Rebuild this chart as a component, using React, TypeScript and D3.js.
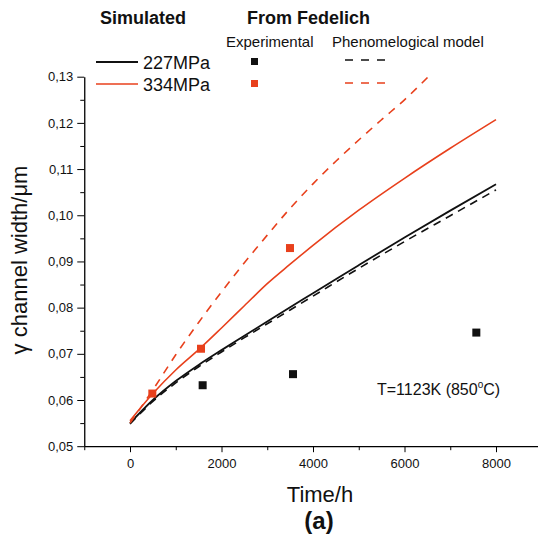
import React, { useEffect, useRef } from "react";
import * as d3 from "d3";

const timeSim = [0, 500, 1000, 1500, 2000, 2500, 3000, 3500, 4000, 5000, 6000, 7000, 8000];
const sim227 = [0.055, 0.06, 0.0641, 0.0676, 0.0708, 0.0739, 0.077, 0.0801, 0.0831, 0.0892, 0.0952, 0.101, 0.1067];
const model227 = [0.0548, 0.0597, 0.0637, 0.0672, 0.0704, 0.0735, 0.0765, 0.0795, 0.0825, 0.0885, 0.0943, 0.0999, 0.1055];
const sim334 = [0.0555, 0.0614, 0.0665, 0.0709, 0.0756, 0.0804, 0.0852, 0.0894, 0.0935, 0.1011, 0.108, 0.1145, 0.1207];
const timeModel334 = [0, 500, 1000, 1500, 2000, 2500, 3000, 3500, 4000, 4500, 5000, 5500, 6000, 6520];
const model334 = [0.055, 0.0622, 0.0698, 0.0768, 0.0834, 0.0897, 0.0957, 0.1015, 0.1068, 0.1117, 0.1163, 0.1207, 0.125, 0.13];
const exp227Time = [1588, 3563, 7570];
const exp227 = [0.0632, 0.0656, 0.0746];
const exp334Time = [488, 1552, 3497];
const exp334 = [0.0614, 0.0711, 0.0929];
const xTickLabels = [0, 2000, 4000, 6000, 8000];
const yTickValues = [0.05, 0.06, 0.07, 0.08, 0.09, 0.1, 0.11, 0.12, 0.13];

const RED = "#e8401c";
const FONT = "'Liberation Sans', Arial, sans-serif";

export default function App() {
  const ref = useRef<SVGSVGElement>(null);
  useEffect(() => {
    const svg = d3.select(ref.current);
    svg.selectAll("*").remove();
    const x = d3.scaleLinear().domain([-1000, 9000]).range([84.25, 541.75]);
    const y = d3.scaleLinear().domain([0.05, 0.13]).range([446.2, 76.7]);
    const isMajorY = (d: any) => yTickValues.some((v) => Math.abs(v - d) < 1e-6);

    // axes
    const gx = svg.append("g").attr("transform", `translate(0,${y(0.05)})`);
    gx.call(
      d3.axisBottom(x).tickValues(d3.range(-1000, 9001, 1000)).tickSize(5).tickSizeOuter(0)
        .tickFormat((d: any) => (xTickLabels.includes(d) ? String(d) : ""))
    );
    gx.selectAll(".tick line").attr("y2", (d: any) => (xTickLabels.includes(d) ? 6 : 4));
    gx.selectAll("text").attr("font-size", 13).attr("font-family", FONT).attr("dy", "1.05em").attr("fill", "#111");
    gx.select(".domain").attr("stroke-width", 1.3);

    const gy = svg.append("g").attr("transform", `translate(${x(-1000)},0)`);
    gy.call(
      d3.axisLeft(y).tickValues(d3.range(0, 17).map((i) => 0.05 + i * 0.005)).tickSizeOuter(0)
        .tickFormat((d: any) => (isMajorY(d) ? d3.format(".2f")(d).replace(".", ",") : ""))
    );
    gy.selectAll(".tick line").attr("x2", (d: any) => (isMajorY(d) ? -7 : -4));
    gy.selectAll("text").attr("font-size", 13).attr("font-family", FONT).attr("x", -11).attr("fill", "#111");
    gy.select(".domain").attr("stroke-width", 1.3);

    const mono = d3.line<[number, number]>().x((d) => x(d[0])).y((d) => y(d[1])).curve(d3.curveMonotoneX);
    const zip = (a: number[], b: number[]) => a.map((v, i) => [v, b[i]] as [number, number]);

    svg.append("path").attr("d", mono(zip(timeSim, model227))).attr("fill", "none").attr("stroke", "#111").attr("stroke-width", 1.6).attr("stroke-dasharray", "8,6");
    svg.append("path").attr("d", mono(zip(timeSim, sim227))).attr("fill", "none").attr("stroke", "#111").attr("stroke-width", 1.8);
    svg.append("path").attr("d", mono(zip(timeModel334, model334))).attr("fill", "none").attr("stroke", RED).attr("stroke-width", 1.6).attr("stroke-dasharray", "8,7");
    svg.append("path").attr("d", mono(zip(timeSim, sim334))).attr("fill", "none").attr("stroke", RED).attr("stroke-width", 1.6);

    const sq = 8;
    svg.selectAll(".e227").data(zip(exp227Time, exp227)).enter().append("rect")
      .attr("x", (d) => x(d[0]) - sq / 2).attr("y", (d) => y(d[1]) - sq / 2).attr("width", sq).attr("height", sq).attr("fill", "#111");
    svg.selectAll(".e334").data(zip(exp334Time, exp334)).enter().append("rect")
      .attr("x", (d) => x(d[0]) - sq / 2).attr("y", (d) => y(d[1]) - sq / 2).attr("width", sq).attr("height", sq).attr("fill", RED);

    // legend
    const t = (txt: string, xx: number, yy: number, size: number, weight = "normal", anchor = "start") =>
      svg.append("text").text(txt).attr("x", xx).attr("y", yy).attr("font-size", size).attr("font-weight", weight)
        .attr("text-anchor", anchor).attr("font-family", FONT).attr("fill", "#111");
    t("Simulated", 100, 24, 18, "bold");
    t("From Fedelich", 247, 24, 18, "bold");
    t("Experimental", 226, 47, 15);
    t("Phenomelogical model", 332, 47, 15);
    t("227MPa", 143, 68.5, 18);
    t("334MPa", 143, 91, 18);
    svg.append("line").attr("x1", 96).attr("x2", 138).attr("y1", 62).attr("y2", 62).attr("stroke", "#111").attr("stroke-width", 1.8);
    svg.append("line").attr("x1", 96).attr("x2", 138).attr("y1", 84).attr("y2", 84).attr("stroke", RED).attr("stroke-width", 1.6);
    svg.append("rect").attr("x", 251).attr("y", 58).attr("width", 7).attr("height", 7).attr("fill", "#111");
    svg.append("rect").attr("x", 251).attr("y", 80).attr("width", 7).attr("height", 7).attr("fill", RED);
    svg.append("line").attr("x1", 345).attr("x2", 388).attr("y1", 60).attr("y2", 60).attr("stroke", "#111").attr("stroke-width", 1.6).attr("stroke-dasharray", "8,8");
    svg.append("line").attr("x1", 345).attr("x2", 388).attr("y1", 83).attr("y2", 83).attr("stroke", RED).attr("stroke-width", 1.6).attr("stroke-dasharray", "8,8");

    // annotation
    const ann = svg.append("text").attr("x", 377).attr("y", 395).attr("font-size", 16).attr("font-family", FONT).attr("fill", "#111");
    ann.append("tspan").text("T=1123K (850");
    ann.append("tspan").text("o").attr("font-size", 10).attr("dy", -7);
    ann.append("tspan").text("C)").attr("dy", 7);

    // axis titles
    t("Time/h", 320, 502, 22, "normal", "middle");
    t("(a)", 319, 529, 24, "bold", "middle");
    svg.append("text").attr("transform", "translate(27,260) rotate(-90)").attr("text-anchor", "middle")
      .attr("font-size", 22).attr("font-family", FONT).attr("fill", "#111").text("γ channel width/μm");
  }, []);
  return (
    <svg ref={ref} width={538} height={545} style={{ position: "absolute", left: 0, top: 0, background: "#fff" }} />
  );
}
